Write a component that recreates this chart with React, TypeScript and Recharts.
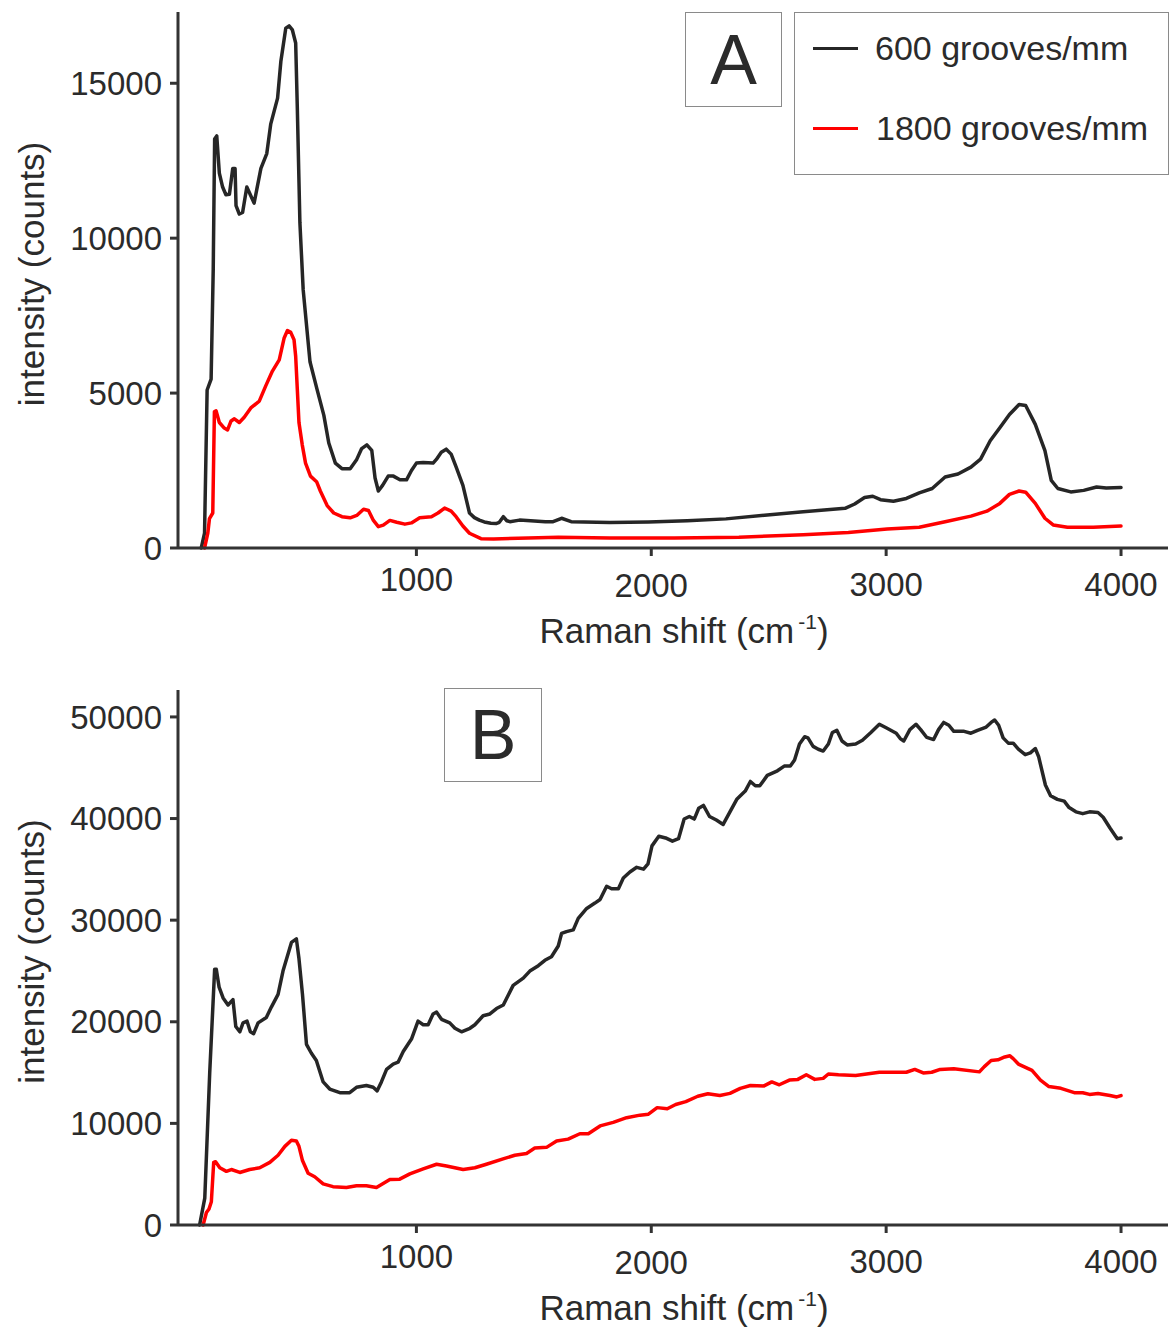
import React from 'react';
import { LineChart, Line, XAxis, YAxis } from 'recharts';

type Pt = [number, number];

const FONT = '"Liberation Sans", Arial, Helvetica, sans-serif';
const TEXT = '#2b2b2b';
const AXIS = '#333333';
const BLACK = '#262626';
const RED = '#ff0000';

const SERIES_NAMES = ['600 grooves/mm', '1800 grooves/mm'];
const SHIFT_TICKS = [1000, 2000, 3000, 4000];
const SHIFT_DOMAIN: [number, number] = [-15, 4200];
const A_COUNT_TICKS = [0, 5000, 10000, 15000];
const B_COUNT_TICKS = [0, 10000, 20000, 30000, 40000, 50000];

// panel A - [raman shift, counts]
const a600: Pt[] = [
  [84, 0], [98, 480], [109, 5100], [126, 5450], [135, 9000], [141, 13200], [150, 13300], [161, 12100],
  [175, 11650], [189, 11400], [204, 11420], [218, 12250], [228, 12250], [232, 11050], [246, 10780],
  [260, 10830], [278, 11650], [292, 11420], [309, 11130], [338, 12250], [363, 12730], [380, 13690],
  [409, 14520], [423, 15710], [444, 16780], [458, 16850], [472, 16720], [486, 16300], [493, 14200],
  [504, 10500], [518, 8330], [547, 6010], [577, 5120], [606, 4280], [627, 3390], [655, 2740],
  [683, 2560], [718, 2560], [746, 2860], [767, 3210], [789, 3330], [810, 3150], [824, 2260],
  [838, 1840], [856, 2020], [880, 2320], [902, 2320], [930, 2200], [958, 2200], [979, 2500],
  [1000, 2740], [1029, 2760], [1071, 2740], [1085, 2860], [1106, 3090], [1127, 3190], [1148, 3030],
  [1169, 2620], [1198, 2020], [1226, 1130], [1247, 980], [1268, 900], [1289, 840], [1317, 800],
  [1339, 790], [1353, 830], [1370, 1010], [1385, 880], [1398, 850], [1439, 900], [1549, 850],
  [1582, 850], [1618, 960], [1659, 850], [1823, 820], [1988, 840], [2153, 880], [2318, 940],
  [2482, 1060], [2647, 1170], [2825, 1280], [2866, 1420], [2908, 1630], [2943, 1670], [2976, 1560],
  [3031, 1510], [3086, 1600], [3141, 1780], [3196, 1920], [3251, 2290], [3306, 2390], [3361, 2610],
  [3402, 2870], [3443, 3460], [3484, 3880], [3525, 4310], [3566, 4630], [3594, 4600], [3635, 3990],
  [3676, 3140], [3703, 2180], [3731, 1920], [3786, 1810], [3841, 1860], [3896, 1970], [3937, 1940],
  [4000, 1950],
];

const a1800: Pt[] = [
  [98, 0], [112, 480], [119, 950], [133, 1130], [140, 4400], [147, 4430], [161, 4050], [182, 3870],
  [196, 3810], [211, 4100], [225, 4170], [246, 4050], [267, 4220], [295, 4520], [331, 4740],
  [359, 5240], [387, 5710], [416, 6070], [437, 6780], [451, 7020], [465, 6960], [479, 6720],
  [486, 6190], [493, 5120], [500, 4050], [514, 3330], [528, 2740], [549, 2320], [575, 2140],
  [591, 1840], [620, 1370], [648, 1130], [683, 1010], [718, 975], [746, 1050], [775, 1250],
  [796, 1210], [817, 890], [838, 690], [859, 740], [887, 890], [916, 830], [951, 770], [979, 810],
  [1014, 975], [1064, 1010], [1092, 1130], [1120, 1290], [1148, 1190], [1169, 1010], [1198, 710],
  [1226, 476], [1275, 300], [1329, 290], [1604, 350], [1823, 320], [2098, 320], [2373, 350],
  [2647, 430], [2839, 500], [3004, 610], [3141, 670], [3251, 850], [3361, 1030], [3429, 1190],
  [3484, 1440], [3525, 1730], [3566, 1840], [3594, 1800], [3635, 1440], [3676, 960], [3711, 745],
  [3772, 670], [3882, 670], [4000, 710],
];

// panel B - [raman shift, counts]
const b600: Pt[] = [
  [77, 0], [99, 2640], [120, 14960], [141, 25170], [148, 25170], [160, 23410], [177, 22350],
  [198, 21650], [219, 22180], [231, 19540], [248, 19010], [262, 19890], [279, 20060], [293, 19010],
  [307, 18830], [326, 19890], [361, 20420], [383, 21470], [411, 22700], [432, 24990], [468, 27810],
  [489, 28160], [500, 26220], [515, 22700], [532, 17780], [553, 16900], [574, 16190], [603, 14080],
  [631, 13380], [674, 13020], [716, 13020], [745, 13550], [787, 13730], [816, 13550], [833, 13200],
  [851, 14080], [873, 15310], [901, 15840], [922, 16020], [944, 17070], [979, 18300], [1007, 20060],
  [1029, 19710], [1050, 19710], [1071, 20770], [1086, 20950], [1107, 20240], [1142, 19890],
  [1164, 19360], [1192, 19010], [1228, 19360], [1249, 19710], [1284, 20590], [1313, 20770],
  [1341, 21300], [1370, 21650], [1412, 23580], [1455, 24290], [1483, 24990], [1519, 25520],
  [1547, 26050], [1575, 26400], [1604, 27460], [1618, 28690], [1639, 28870], [1668, 29040],
  [1689, 30170], [1725, 31150], [1760, 31680], [1782, 32030], [1810, 33340], [1831, 33090],
  [1860, 33090], [1881, 34140], [1909, 34740], [1938, 35200], [1967, 35020], [1986, 35550],
  [2003, 37310], [2032, 38260], [2061, 38090], [2090, 37770], [2116, 38020], [2140, 39950],
  [2162, 40200], [2183, 39950], [2202, 41010], [2222, 41290], [2248, 40200], [2277, 39850],
  [2306, 39420], [2335, 40660], [2364, 41890], [2400, 42700], [2422, 43650], [2443, 43230],
  [2462, 43230], [2494, 44250], [2537, 44700], [2566, 45160], [2592, 45160], [2610, 45760],
  [2631, 47340], [2653, 48050], [2667, 47940], [2689, 47100], [2711, 46820], [2732, 46640],
  [2754, 47340], [2771, 48470], [2790, 48680], [2812, 47630], [2834, 47240], [2870, 47340],
  [2899, 47700], [2935, 48470], [2971, 49280], [3000, 48930], [3043, 48400], [3060, 47870],
  [3075, 47630], [3101, 48750], [3127, 49280], [3147, 48750], [3173, 47980], [3202, 47770],
  [3223, 48750], [3245, 49460], [3267, 49180], [3288, 48580], [3332, 48580], [3361, 48400],
  [3389, 48680], [3426, 49000], [3447, 49460], [3462, 49700], [3479, 49180], [3498, 47940],
  [3520, 47420], [3541, 47420], [3563, 46820], [3592, 46290], [3614, 46460], [3635, 46890],
  [3649, 46110], [3678, 43300], [3700, 42240], [3729, 41890], [3758, 41710], [3779, 41080],
  [3808, 40660], [3837, 40480], [3866, 40660], [3902, 40590], [3924, 40130], [3953, 39070],
  [3984, 38020], [4000, 38090],
];

const b1800: Pt[] = [
  [92, 0], [106, 1230], [117, 1580], [127, 2290], [137, 6160], [145, 6230], [163, 5630], [191, 5280],
  [212, 5460], [248, 5170], [290, 5460], [333, 5630], [376, 6160], [411, 6860], [440, 7740],
  [468, 8340], [489, 8270], [500, 7740], [515, 6340], [539, 5100], [567, 4750], [603, 4050],
  [645, 3770], [702, 3700], [745, 3870], [787, 3870], [830, 3700], [887, 4470], [929, 4510],
  [972, 5030], [1029, 5530], [1086, 5980], [1128, 5810], [1199, 5460], [1249, 5630], [1298, 5980],
  [1369, 6510], [1419, 6860], [1469, 7040], [1504, 7570], [1554, 7640], [1597, 8270], [1646, 8450],
  [1696, 8980], [1732, 8980], [1782, 9750], [1838, 10100], [1895, 10560], [1952, 10810],
  [1988, 10910], [2025, 11550], [2068, 11440], [2104, 11860], [2147, 12140], [2198, 12670],
  [2241, 12920], [2292, 12740], [2335, 12950], [2379, 13450], [2422, 13730], [2480, 13690],
  [2513, 14080], [2545, 13800], [2588, 14260], [2624, 14330], [2660, 14780], [2696, 14330],
  [2732, 14430], [2754, 14860], [2797, 14780], [2870, 14710], [2971, 15030], [3086, 15030],
  [3122, 15310], [3158, 14960], [3194, 15030], [3230, 15310], [3288, 15380], [3397, 15070],
  [3418, 15590], [3447, 16190], [3476, 16260], [3505, 16540], [3527, 16650], [3541, 16370],
  [3563, 15840], [3621, 15210], [3657, 14260], [3693, 13620], [3744, 13450], [3801, 13020],
  [3837, 13020], [3866, 12850], [3902, 12950], [3953, 12740], [3982, 12600], [4000, 12740],
];

const toRows = (pts: Pt[]) => pts.map(([shift, counts]) => ({ shift, counts }));

// the 1000 label sits a little higher than the others in the original
const TICK_NUDGE: Record<number, number> = { 1000: -5, 2000: 1 };

const ShiftTick = (props: any) => {
  const { x, y, payload } = props;
  const nudge = TICK_NUDGE[payload.value] ?? 0;
  return (
    <text x={x} y={y + nudge} dy="0.71em" textAnchor="middle" fill={TEXT} fontSize={33} fontFamily={FONT}>
      {payload.value}
    </text>
  );
};

const ShiftTitle = (props: any) => {
  const vb = props.viewBox ?? { x: 178, y: 548, width: 990, height: 117 };
  return (
    <text x={vb.x + vb.width / 2 + 11} y={vb.y + 95} textAnchor="middle" fill={TEXT} fontSize={35} fontFamily={FONT}>
      Raman shift (cm
      <tspan fontSize={21} dx={4} dy={-14}>-1</tspan>
      <tspan dy={14}>)</tspan>
    </text>
  );
};

const CountsTitle = (props: any) => {
  const vb = props.viewBox ?? { x: 0, y: 0, width: 178, height: 500 };
  const cy = vb.y + vb.height / 2 - 6;
  return (
    <text
      x={31}
      y={cy}
      transform={`rotate(-90, 31, ${cy})`}
      textAnchor="middle"
      dominantBaseline="central"
      fill={TEXT}
      fontSize={35}
      fontFamily={FONT}
    >
      intensity (counts)
    </text>
  );
};

interface PanelProps {
  data600: Pt[];
  data1800: Pt[];
  yTicks: number[];
  yMax: number;
  height: number;
  top: number;
  xAxisHeight: number;
}

const SpectrumPanel = ({ data600, data1800, yTicks, yMax, height, top, xAxisHeight }: PanelProps) => (
  <LineChart width={1170} height={height} margin={{ top, right: 2, left: 0, bottom: 0 }}>
    <XAxis
      dataKey="shift"
      type="number"
      domain={SHIFT_DOMAIN}
      ticks={SHIFT_TICKS}
      height={xAxisHeight}
      axisLine={{ stroke: AXIS, strokeWidth: 3 }}
      tickLine={{ stroke: AXIS, strokeWidth: 3 }}
      tickSize={8}
      tickMargin={17}
      tick={<ShiftTick />}
      label={<ShiftTitle />}
    />
    <YAxis
      type="number"
      domain={[0, yMax]}
      ticks={yTicks}
      width={178}
      axisLine={{ stroke: AXIS, strokeWidth: 3 }}
      tickLine={{ stroke: AXIS, strokeWidth: 3 }}
      tickSize={8}
      tickMargin={8}
      tick={{ fill: TEXT, fontSize: 33, fontFamily: FONT }}
      label={<CountsTitle />}
    />
    <Line data={toRows(data600)} dataKey="counts" name={SERIES_NAMES[0]} type="linear" stroke={BLACK}
      strokeWidth={3.5} strokeLinejoin="round" strokeLinecap="round" dot={false} isAnimationActive={false} />
    <Line data={toRows(data1800)} dataKey="counts" name={SERIES_NAMES[1]} type="linear" stroke={RED}
      strokeWidth={3.5} strokeLinejoin="round" strokeLinecap="round" dot={false} isAnimationActive={false} />
  </LineChart>
);

const PanelLetter = ({ letter, left, top, width, height }: { letter: string; left: number; top: number; width: number; height: number }) => (
  <div
    style={{
      position: 'absolute', left, top, width, height, boxSizing: 'border-box',
      border: '1px solid #8a8a8a', background: '#fff', display: 'flex',
      alignItems: 'center', justifyContent: 'center', fontSize: 70, fontFamily: FONT, color: TEXT, lineHeight: 1,
    }}
  >
    {letter}
  </div>
);

const GratingLegend = () => (
  <div
    style={{
      position: 'absolute', left: 794, top: 12, width: 375, height: 163, boxSizing: 'border-box',
      border: '1px solid #8a8a8a', background: '#fff', fontFamily: FONT, color: TEXT, fontSize: 34,
    }}
  >
    {SERIES_NAMES.map((name, i) => (
      <div key={name} style={{ position: 'absolute', left: 18, top: i === 0 ? 15 : 95, height: 40, display: 'flex', alignItems: 'center' }}>
        <div style={{ width: 45, height: 3, background: i === 0 ? BLACK : RED }} />
        <span style={{ marginLeft: i === 0 ? 17 : 18, whiteSpace: 'nowrap' }}>{name}</span>
      </div>
    ))}
  </div>
);

export default function App() {
  return (
    <div style={{ position: 'absolute', left: 0, top: 0, width: 1170, height: 1331, background: '#fff' }}>
      <div style={{ position: 'absolute', left: 0, top: 0 }}>
        <SpectrumPanel data600={a600} data1800={a1800} yTicks={A_COUNT_TICKS} yMax={17300}
          height={665} top={12} xAxisHeight={117} />
      </div>
      <div style={{ position: 'absolute', left: 0, top: 665 }}>
        <SpectrumPanel data600={b600} data1800={b1800} yTicks={B_COUNT_TICKS} yMax={52650}
          height={666} top={25} xAxisHeight={106} />
      </div>
      <PanelLetter letter="A" left={685} top={12} width={97} height={95} />
      <GratingLegend />
      <PanelLetter letter="B" left={444} top={688} width={98} height={94} />
    </div>
  );
}
